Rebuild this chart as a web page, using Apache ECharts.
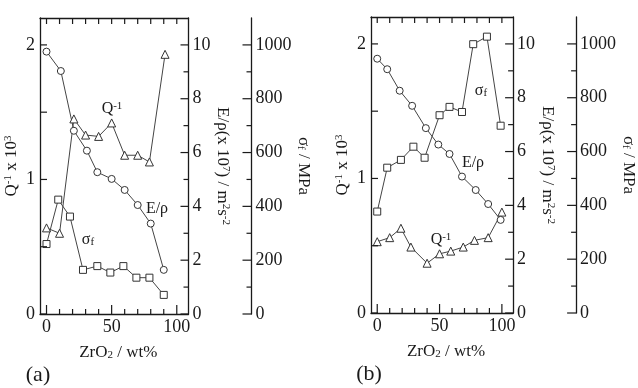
<!DOCTYPE html>
<html>
<head>
<meta charset="utf-8">
<script src="https://cdn.jsdelivr.net/npm/echarts@6/dist/echarts.min.js"></script>
<style>html,body{margin:0;padding:0;background:#fff}#main{width:638px;height:388px}</style>
</head>
<body>
<div id="main"></div>
<script>
// panel (a)
var aQx = [0, 10, 21, 30, 40, 50, 60, 70, 79, 91];
var aQ  = [0.64, 0.60, 1.45, 1.33, 1.32, 1.42, 1.18, 1.18, 1.13, 1.93];
var aEx = [0, 11, 21, 31, 39, 50, 60, 70, 80, 90];
var aE  = [9.75, 9.03, 6.81, 6.07, 5.27, 5.02, 4.61, 4.05, 3.36, 1.64];
var aSx = [0, 9, 18, 28, 39, 49, 59, 69, 79, 90];
var aS  = [260, 425, 362, 164, 178, 154, 178, 135, 135, 71];
// panel (b)
var bQx = [0, 10, 19, 27, 40, 50, 59, 69, 78, 89, 100];
var bQ  = [0.53, 0.56, 0.63, 0.49, 0.37, 0.44, 0.46, 0.49, 0.54, 0.56, 0.75];
var bEx = [0, 8, 18, 28, 39, 49, 58, 68, 79, 89, 99];
var bE  = [9.45, 9.06, 8.26, 7.70, 6.87, 6.26, 5.91, 5.07, 4.57, 4.05, 3.46];
var bSx = [0, 8, 19, 29, 38, 50, 58, 68, 77, 88, 99];
var bS  = [377, 540, 569, 618, 577, 735, 766, 747, 999, 1027, 696];
// tick labels and tick positions
var xLabels = [0, 50, 100];
var xTicks = [0, 10, 20, 30, 40, 50, 60, 70, 80, 90, 100];
var qLabels = [0, 1, 2];
var qTicks = [0, 0.5, 1, 1.5, 2];
var eLabels = [0, 2, 4, 6, 8, 10];
var eTicks = [0, 1, 2, 3, 4, 5, 6, 7, 8, 9, 10];
var sLabels = [0, 200, 400, 600, 800, 1000];
var sTicks = [0, 100, 200, 300, 400, 500, 600, 700, 800, 900, 1000];

var ink = '#1a1a1a';
var serif = 'Liberation Serif';
var rich = {
  sup: {fontFamily: serif, fontSize: 11, color: ink, verticalAlign: 'top'},
  sub: {fontFamily: serif, fontSize: 11, color: ink, verticalAlign: 'bottom'}
};

function pairs(xs, ys) {
  var out = [];
  for (var i = 0; i < xs.length; i++) out.push([xs[i], ys[i]]);
  return out;
}
function plain(v) { return String(v); }

var myChart = echarts.init(document.getElementById('main'));
var grids = [
  {left: 40, top: 18, width: 148.5, height: 296},
  {left: 371, top: 17, width: 148.5, height: 296}
];
var xAxes = [], yAxes = [], series = [];

function axLine() {
  return {show: true, onZero: false, lineStyle: {color: ink, width: 1.3}};
}
function label(vals, margin) {
  return {customValues: vals, margin: margin, formatter: plain, fontFamily: serif, fontSize: 18, color: ink};
}

for (var g = 0; g < 2; g++) {
  xAxes.push({
    gridIndex: g, type: 'value', min: -5, max: 109, position: 'bottom',
    axisLine: axLine(), axisTick: {show: false},
    axisLabel: label(xLabels, 4),
    splitLine: {show: false},
    name: 'ZrO{sub|2} / wt%', nameLocation: 'middle', nameGap: 30,
    nameTextStyle: {fontFamily: serif, fontSize: 17, color: ink, rich: rich, padding: [0, 0, 0, 8]}
  });
  xAxes.push({
    gridIndex: g, type: 'value', min: -5, max: 109, position: 'top',
    axisLine: axLine(), axisTick: {show: false},
    axisLabel: {show: false}, splitLine: {show: false}
  });
  yAxes.push({
    gridIndex: g, type: 'value', min: 0, max: 2.2, position: 'left',
    axisLine: axLine(), axisTick: {show: false},
    axisLabel: label(qLabels, 5),
    splitLine: {show: false},
    name: 'Q{sup|-1} x 10{sup|3}', nameLocation: 'middle', nameGap: 20,
    nameTextStyle: {fontFamily: serif, fontSize: 17, color: ink, rich: rich}
  });
  yAxes.push({
    gridIndex: g, type: 'value', min: 0, max: 11, position: 'right',
    axisLine: axLine(), axisTick: {show: false},
    axisLabel: label(eLabels, 4),
    splitLine: {show: false},
    name: 'E/ρ(x 10{sup|7}) / m{sup|2}s{sup|-2}', nameLocation: 'middle', nameGap: 25, nameRotate: -90,
    nameTextStyle: {fontFamily: serif, fontSize: 17, color: ink, rich: rich}
  });
  yAxes.push({
    gridIndex: g, type: 'value', min: 0, max: 1100, position: 'right', offset: 63,
    axisLine: axLine(), axisTick: {show: false},
    axisLabel: label(sLabels, 4),
    splitLine: {show: false},
    name: 'σ{sub|f} / MPa', nameLocation: 'middle', nameGap: 36, nameRotate: -90,
    nameTextStyle: {fontFamily: serif, fontSize: 17, color: ink, rich: rich}
  });
}

function ser(g, yIdx, data, symbol, size) {
  return {
    type: 'line', xAxisIndex: g * 2, yAxisIndex: g * 3 + yIdx, data: data,
    symbol: symbol, symbolSize: size, showAllSymbol: true,
    lineStyle: {color: '#444', width: 1},
    itemStyle: {color: '#fff', borderColor: '#333', borderWidth: 1},
    z: 3
  };
}
series.push(ser(0, 0, pairs(aQx, aQ), 'triangle', 8));
series.push(ser(0, 1, pairs(aEx, aE), 'circle', 7));
series.push(ser(0, 2, pairs(aSx, aS), 'rect', 7));
series.push(ser(1, 0, pairs(bQx, bQ), 'triangle', 8));
series.push(ser(1, 1, pairs(bEx, bE), 'circle', 7));
series.push(ser(1, 2, pairs(bSx, bS), 'rect', 7));

function note(x, y, txt, size) {
  return {type: 'text', x: x, y: y, z: 10,
    style: {text: txt, rich: rich, fontFamily: serif, fontSize: size || 16, fill: ink, align: 'center', verticalAlign: 'middle'}};
}
var notes = [
  note(112, 109, 'Q{sup|-1}'),
  note(157, 209, 'E/ρ'),
  note(88, 240, 'σ{sub|f}'),
  note(481, 91, 'σ{sub|f}'),
  note(473, 163, 'E/ρ'),
  note(441, 240, 'Q{sup|-1}'),
  note(38, 375, '(a)', 22),
  note(369, 374, '(b)', 22)
];

myChart.setOption({
  animation: false,
  grid: grids,
  xAxis: xAxes,
  yAxis: yAxes,
  series: series,
  graphic: notes
});

// tick marks: positions come from the axes' own scales
function seg(x1, y1, x2, y2) {
  return {type: 'line', z: 20, silent: true,
    shape: {x1: x1, y1: y1, x2: x2, y2: y2},
    style: {stroke: ink, lineWidth: 1.2}};
}
var ticks = [];
for (var k = 0; k < 2; k++) {
  var xi = k * 2, qi = k * 3, ei = k * 3 + 1, si = k * 3 + 2;
  var yBot = myChart.convertToPixel({yAxisIndex: qi}, 0);
  var yTop = myChart.convertToPixel({yAxisIndex: qi}, 2.2);
  var xLeft = myChart.convertToPixel({xAxisIndex: xi}, -5);
  var xRight = myChart.convertToPixel({xAxisIndex: xi}, 109);
  var xS = xRight + 63;
  xTicks.forEach(function (v) {
    var px = myChart.convertToPixel({xAxisIndex: xi}, v);
    var big = xLabels.indexOf(v) >= 0;
    ticks.push(seg(px, yBot, px, yBot - (big ? 9 : 5)));
    ticks.push(seg(px, yTop, px, yTop + 6));
  });
  qTicks.forEach(function (v) {
    var py = myChart.convertToPixel({yAxisIndex: qi}, v);
    ticks.push(seg(xLeft, py, xLeft + 7, py));
  });
  eTicks.forEach(function (v) {
    var py = myChart.convertToPixel({yAxisIndex: ei}, v);
    var big = eLabels.indexOf(v) >= 0;
    ticks.push(seg(xRight, py, xRight - (big ? 8 : 5), py));
  });
  sTicks.forEach(function (v) {
    var py = myChart.convertToPixel({yAxisIndex: si}, v);
    var big = sLabels.indexOf(v) >= 0;
    ticks.push(seg(xS, py, xS - (big ? 9 : 5), py));
  });
}

myChart.setOption({graphic: notes.concat(ticks)});
</script>
</body>
</html>
